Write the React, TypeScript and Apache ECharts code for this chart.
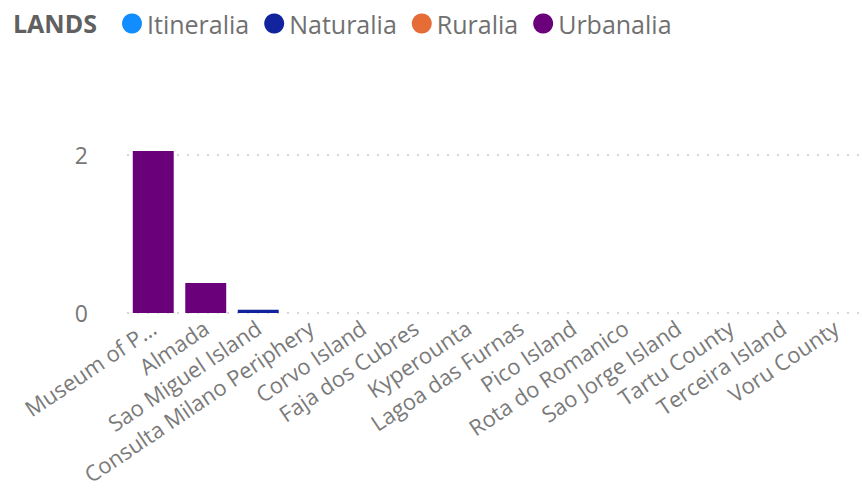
import React, { useEffect, useRef } from "react";
import * as echarts from "echarts";

const categories = [
  "Museum of P...",
  "Almada",
  "Sao Miguel Island",
  "Consulta Milano Periphery",
  "Corvo Island",
  "Faja dos Cubres",
  "Kyperounta",
  "Lagoa das Furnas",
  "Pico Island",
  "Rota do Romanico",
  "Sao Jorge Island",
  "Tartu County",
  "Terceira Island",
  "Voru County",
];

const seriesNames = ["Itineralia", "Naturalia", "Ruralia", "Urbanalia"];
const itineralia = [0, 0, 0, 0, 0, 0, 0, 0, 0, 0, 0, 0, 0, 0];
const naturalia = [0, 0, 0.04, 0, 0, 0, 0, 0, 0, 0, 0, 0, 0, 0];
const ruralia = [0, 0, 0, 0, 0, 0, 0, 0, 0, 0, 0, 0, 0, 0];
const urbanalia = [2.05, 0.38, 0, 0, 0, 0, 0, 0, 0, 0, 0, 0, 0, 0];
const colors = ["#118DFF", "#12239E", "#E66C37", "#6B007B"];
const yTicks = [0, 2];

const FONT = "'Open Sans', 'Noto Sans', sans-serif";

export default function App() {
  const ref = useRef<HTMLDivElement>(null);
  useEffect(() => {
    if (!ref.current) return;
    const chart = echarts.init(ref.current, undefined, { renderer: "svg" });
    const data = [itineralia, naturalia, ruralia, urbanalia];
    chart.setOption({
      animation: false,
      textStyle: { fontFamily: FONT },
      title: {
        text: "LANDS",
        left: 8,
        top: 5,
        textStyle: { fontFamily: FONT, fontSize: 25, fontWeight: "bold", color: "#606060" },
      },
      legend: {
        data: seriesNames,
        left: 117,
        top: 6,
        icon: "circle",
        itemWidth: 20,
        itemHeight: 20,
        itemGap: 15,
        textStyle: { fontFamily: FONT, fontSize: 25, color: "#707070" },
      },
      grid: {
        left: 127,
        right: 0,
        top: 155,
        height: 158,
        containLabel: false,
        outerBoundsMode: "none",
      },
      xAxis: {
        type: "category",
        data: categories,
        axisLine: { show: false },
        axisTick: { show: false },
        axisLabel: {
          interval: 0,
          rotate: 34,
          fontSize: 22,
          color: "#7a7a7a",
          fontFamily: FONT,
          margin: 12,
        },
      },
      yAxis: {
        type: "value",
        min: yTicks[0],
        max: yTicks[yTicks.length - 1],
        interval: 2,
        axisLine: { show: false },
        axisTick: { show: false },
        axisLabel: { fontSize: 23, color: "#777", margin: 39, fontFamily: FONT },
        splitLine: { lineStyle: { type: [2, 8], color: "#ccc", width: 1.5 } },
      },
      series: seriesNames.map((name, i) => ({
        name,
        type: "bar",
        stack: "total",
        data: data[i],
        clip: false,
        barCategoryGap: "22%",
        itemStyle: { color: colors[i] },
      })),
    });
    return () => chart.dispose();
  }, []);
  return (
    <div
      ref={ref}
      style={{ position: "fixed", left: 0, top: 0, width: 862, height: 491, background: "#fff" }}
    />
  );
}
